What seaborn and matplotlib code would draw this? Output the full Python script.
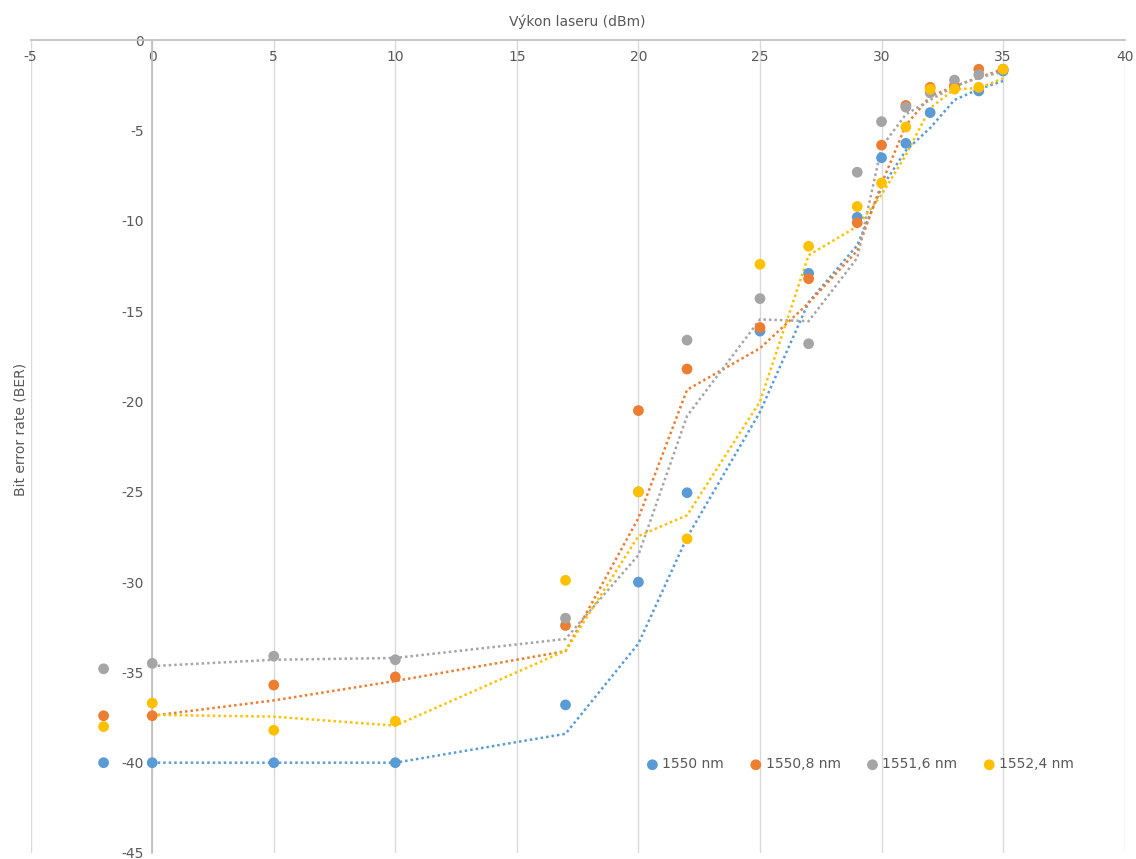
import matplotlib
matplotlib.use("Agg")
import matplotlib.pyplot as plt
import seaborn as sns
import pandas as pd

x = [-2, 0, 5, 10, 17, 20, 22, 25, 27, 29, 30, 31, 32, 33, 34, 35]
s1550 = [-40, -40, -40, -40, -36.8, -30.0, -25.05, -16.1, -12.9, -9.8, -6.5, -5.7, -4.0, -2.6, -2.8, -1.7]
s1550_8 = [-37.4, -37.4, -35.7, -35.25, -32.4, -20.5, -18.2, -15.9, -13.2, -10.1, -5.8, -3.6, -2.6, -2.5, -1.6, -1.6]
s1551_6 = [-34.8, -34.5, -34.1, -34.3, -32.0, -25.0, -16.6, -14.3, -16.8, -7.3, -4.5, -3.7, -2.9, -2.2, -1.9, -1.6]
s1552_4 = [-38.0, -36.7, -38.2, -37.7, -29.9, -25.0, -27.6, -12.4, -11.4, -9.2, -7.9, -4.8, -2.7, -2.7, -2.6, -1.6]
names = ["1550 nm", "1550,8 nm", "1551,6 nm", "1552,4 nm"]
colors = ["#5B9BD5", "#ED7D31", "#A5A5A5", "#FFC000"]

sns.set_theme(style="white")
plt.rcParams['font.family'] = ['DejaVu Sans']
plt.rcParams['axes.unicode_minus'] = False
fig, ax = plt.subplots(figsize=(11.36, 8.59), dpi=100)
fig.subplots_adjust(left=0.027, right=0.99, top=0.953, bottom=0.007)

for name, vals, c in zip(names, [s1550, s1550_8, s1551_6, s1552_4], colors):
    df = pd.DataFrame({"x": x, "y": vals})
    df["ma"] = df["y"].rolling(2).mean()
    sns.lineplot(data=df.dropna(), x="x", y="ma", ax=ax, color=c, linestyle=(0, (1, 1.2)),
                 linewidth=1.8, legend=False)
    sns.scatterplot(data=df, x="x", y="y", ax=ax, color=c, s=60, edgecolor="none",
                    label=name, zorder=3)

ax.set_xlim(-5, 40)
ax.set_ylim(-45, 0)
ax.set_xticks(range(-5, 41, 5))
ax.set_yticks(range(-45, 1, 5))
ax.xaxis.tick_top()
ax.xaxis.set_label_position("top")
ax.spines['left'].set_position(('data', 0))
ax.spines['right'].set_visible(False)
ax.spines['bottom'].set_visible(False)
for sp in ['left', 'top']:
    ax.spines[sp].set_color("#BFBFBF")
ax.grid(axis='x', color="#D9D9D9", linewidth=1)
ax.tick_params(axis='both', labelsize=10, colors="#595959", length=0)
ax.tick_params(axis='x', pad=-17)
ax.tick_params(axis='y', pad=6)
ax.set_xlabel("Výkon laseru (dBm)", fontsize=10, color="#595959", labelpad=10)
ax.set_ylabel("")
fig.text(0.018, 0.5, "Bit error rate (BER)", rotation=90, fontsize=10, color="#595959",
         ha="center", va="center")
ax.legend(loc="lower right", bbox_to_anchor=(0.965, 0.085), ncol=4, frameon=False,
          handletextpad=-0.3, columnspacing=1.3, fontsize=10, labelcolor="#595959")
fig.savefig("out.png")
